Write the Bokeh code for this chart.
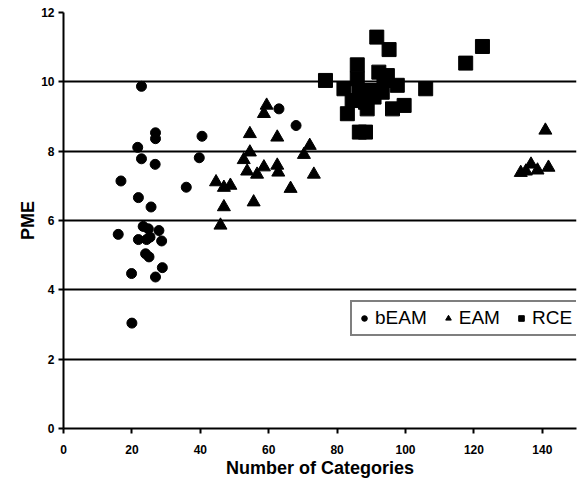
from bokeh.plotting import figure
from bokeh.models import Range1d, FixedTicker, Legend, LegendItem
from bokeh.embed import file_html
from bokeh.resources import INLINE

# bEAM
beam_x = [22.8, 26.9, 26.9, 40.5, 21.7, 22.8, 26.8, 39.7, 16.8, 35.9, 21.9, 25.6, 16.0,
          23.3, 24.8, 27.9, 21.9, 24.3, 28.7, 25.3, 24.0, 25.0, 28.9, 19.9, 26.9, 20.0,
          63.0, 68.0]
beam_y = [9.87, 8.53, 8.36, 8.43, 8.11, 7.78, 7.62, 7.81, 7.14, 6.96, 6.66, 6.39, 5.60,
          5.83, 5.76, 5.71, 5.45, 5.45, 5.41, 5.52, 5.04, 4.95, 4.64, 4.47, 4.37, 3.04,
          9.22, 8.74]
# EAM
eam_x = [59.4, 58.6, 54.5, 62.5, 54.5, 72.0, 52.7, 70.3, 53.7, 58.6, 56.6, 62.5, 62.8,
         73.2, 44.6, 46.9, 48.8, 66.4, 46.9, 55.6, 45.9, 140.9, 133.7, 135.2, 136.7,
         138.6, 141.8]
eam_y = [9.32, 9.08, 8.50, 8.40, 7.97, 8.16, 7.75, 7.90, 7.42, 7.54, 7.33, 7.59, 7.39,
         7.33, 7.11, 6.95, 7.01, 6.92, 6.39, 6.53, 5.86, 8.60, 7.38, 7.42, 7.62,
         7.45, 7.53]
# RCE
rce_x = [91.6, 95.2, 122.5, 117.6, 76.6, 85.9, 92.2, 94.7, 82.0, 85.9, 86.4, 89.8, 93.2,
         97.6, 84.4, 88.3, 90.8, 83.0, 88.8, 96.2, 99.6, 86.5, 88.3, 105.9, 93.7]
rce_y = [11.29, 10.93, 11.02, 10.54, 10.04, 10.49, 10.28, 10.18, 9.80, 10.09, 9.70, 9.75,
         9.70, 9.90, 9.46, 9.41, 9.56, 9.08, 9.22, 9.22, 9.32, 8.55, 8.55, 9.80, 10.04]

x_ticks = [0, 20, 40, 60, 80, 100, 120, 140]
y_ticks = [0, 2, 4, 6, 8, 10, 12]

p = figure(width=579, height=482, output_backend="svg", toolbar_location=None,
           x_range=Range1d(0, 150), y_range=Range1d(0, 12),
           min_border_left=63, min_border_right=3, min_border_top=12, min_border_bottom=54)
p.outline_line_color = None
p.background_fill_color = "white"
p.border_fill_color = "white"

p.xgrid.visible = False
p.ygrid.ticker = FixedTicker(ticks=y_ticks)
p.ygrid.grid_line_color = "black"
p.ygrid.grid_line_width = 2

FONT = "Liberation Sans"
for ax, ticks in ((p.xaxis[0], x_ticks), (p.yaxis[0], y_ticks)):
    ax.ticker = FixedTicker(ticks=ticks)
    ax.axis_line_color = "black"
    ax.axis_line_width = 2
    ax.major_tick_line_color = "black"
    ax.major_tick_line_width = 2
    ax.major_tick_in = 0
    ax.major_tick_out = 5
    ax.minor_tick_line_color = None
    ax.major_label_text_font = FONT
    ax.major_label_text_font_style = "bold"
    ax.major_label_text_font_size = "12px"
    ax.major_label_text_color = "black"
    ax.axis_label_text_font = FONT
    ax.axis_label_text_font_style = "bold"
    ax.axis_label_text_font_size = "18px"
    ax.axis_label_text_color = "black"

p.xaxis.axis_label = "Number of Categories"
p.yaxis.axis_label = "PME"
p.xaxis.major_label_standoff = 11
p.xaxis.axis_label_standoff = 1
p.yaxis.major_label_standoff = 4
p.yaxis.axis_label_standoff = 0

r1 = p.scatter(beam_x, beam_y, marker="circle", size=10, fill_color="black", line_color="black")
r2 = p.scatter(eam_x, eam_y, marker="triangle", size=13, fill_color="black", line_color="black")
r3 = p.scatter(rce_x, rce_y, marker="square", size=14, fill_color="black", line_color="black")

legend = Legend(items=[LegendItem(label="bEAM", renderers=[r1]),
                       LegendItem(label="EAM", renderers=[r2]),
                       LegendItem(label="RCE", renderers=[r3])],
                orientation="horizontal", location=(287, 92),
                label_text_font=FONT, label_text_font_size="19px",
                label_text_color="black", glyph_width=14, glyph_height=14,
                label_standoff=4, spacing=14, padding=5, margin=0,
                border_line_color="black", border_line_width=2,
                background_fill_color="white", background_fill_alpha=1.0)
p.add_layout(legend, "center")

open("out.html", "w").write(file_html(p, INLINE))
